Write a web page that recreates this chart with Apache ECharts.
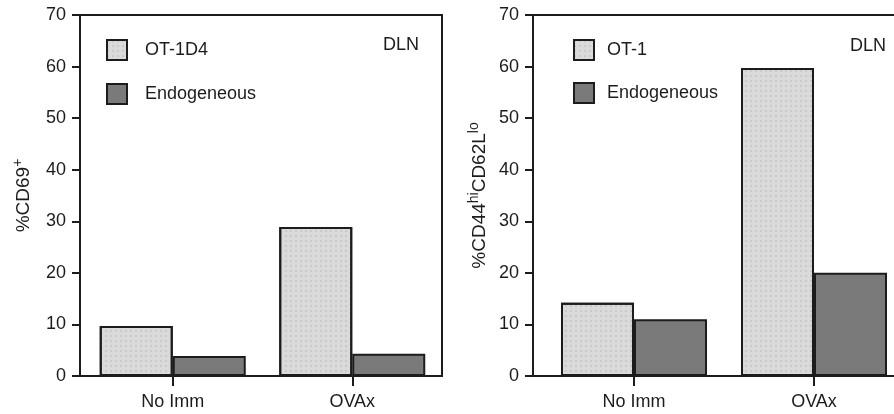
<!DOCTYPE html>
<html>
<head>
<meta charset="utf-8">
<script src="https://cdn.jsdelivr.net/npm/echarts@6/dist/echarts.min.js"></script>
<style>
html,body{margin:0;padding:0;background:#fff;overflow:hidden;}
#chart{width:912px;height:414px;}
</style>
</head>
<body>
<div id="chart"></div>
<script>
const categories = ['No Imm', 'OVAx'];
const yTicks = [0, 70, 10];
const cd69OT1D4 = [9.7, 28.9];
const cd69Endo = [3.9, 4.3];
const cd44OT1 = [14.2, 59.7];
const cd44Endo = [11.0, 20.0];

const INK = '#1c1c1c';
const LIGHT = '#dadada';
const DARK = '#7a7a7a';
const FONT = 'Liberation Sans, Arial, sans-serif';

const chart = echarts.init(document.getElementById('chart'), null, {renderer: 'canvas'});

function frameY(gridIndex, nameText, nameGap) {
  return {
    gridIndex, type: 'value', min: yTicks[0], max: yTicks[1], interval: yTicks[2],
    axisLine: {show: true, lineStyle: {color: INK, width: 2}},
    axisTick: {show: true, inside: false, length: 8, lineStyle: {color: INK, width: 2}},
    axisLabel: {color: INK, fontSize: 18, fontFamily: FONT, margin: 14},
    splitLine: {show: false},
    name: nameText, nameLocation: 'middle', nameRotate: 90, nameGap,
    nameTextStyle: {
      color: INK, fontSize: 19, fontFamily: FONT, lineHeight: 26,
      rich: {sup: {fontSize: 14, fontFamily: FONT, color: INK, verticalAlign: 'top', lineHeight: 26}}
    }
  };
}
function hiddenY(gridIndex) {
  return {gridIndex, type: 'value', min: yTicks[0], max: yTicks[1], interval: yTicks[2], show: false, splitLine: {show: false}};
}
function hiddenX(gridIndex) {
  return {gridIndex, type: 'value', min: 0, max: 1, show: false, splitLine: {show: false}};
}
function catX(gridIndex) {
  return {
    gridIndex, type: 'category', data: categories,
    axisLine: {show: true, lineStyle: {color: INK, width: 2}},
    axisTick: {show: true, alignWithLabel: true, inside: false, length: 10, lineStyle: {color: INK, width: 2}},
    axisLabel: {color: INK, fontSize: 18, fontFamily: FONT, margin: 17},
    splitLine: {show: false}
  };
}
const lightDecal = {
  symbol: 'rect', symbolSize: 1, color: 'rgba(170,170,170,0.35)',
  dashArrayX: [[2, 3]], dashArrayY: [2, 3], rotation: 0
};
function bar(name, data, color, idx, decal) {
  const itemStyle = {color, borderColor: INK, borderWidth: 2};
  if (decal) itemStyle.decal = decal;
  return {
    name, type: 'bar', data, xAxisIndex: idx, yAxisIndex: idx,
    barWidth: 73, barGap: '0%',
    itemStyle,
    emphasis: {disabled: true}
  };
}
function legend(left, top, names, gap, pad) {
  return {
    left, top, orient: 'vertical', padding: 0, itemGap: gap,
    itemWidth: 20, itemHeight: 20, icon: 'rect',
    itemStyle: {borderColor: INK, borderWidth: 2},
    textStyle: {color: INK, fontSize: 18, fontFamily: FONT, padding: [0, 0, 0, pad]},
    data: names, selectedMode: false
  };
}

chart.setOption({
  animation: false,
  backgroundColor: '#fff',
  title: [
    {text: 'DLN', left: 383, top: 36, padding: 0, textStyle: {color: INK, fontSize: 18, fontWeight: 'normal', fontFamily: FONT}},
    {text: 'DLN', left: 850, top: 37, padding: 0, textStyle: {color: INK, fontSize: 18, fontWeight: 'normal', fontFamily: FONT}}
  ],
  legend: [
    legend(106, 39, ['OT-1D4', 'Endogeneous'], 22, 13),
    legend(573, 39, ['OT-1', 'Endogeneous'], 21, 8)
  ],
  grid: [
    {left: 80, top: 15, width: 362, height: 361, show: true, borderColor: INK, borderWidth: 2, backgroundColor: 'transparent'},
    {left: 83, top: 15, width: 359, height: 361},
    {left: 533, top: 15, width: 376, height: 361, show: true, borderColor: INK, borderWidth: 2, backgroundColor: 'transparent'},
    {left: 544, top: 15, width: 360, height: 361}
  ],
  xAxis: [hiddenX(0), catX(1), hiddenX(2), catX(3)],
  yAxis: [
    frameY(0, '%CD69{sup|+}', 43),
    hiddenY(1),
    frameY(2, '%CD44{sup|hi}CD62L{sup|lo}', 40),
    hiddenY(3)
  ],
  series: [
    bar('OT-1D4', cd69OT1D4, LIGHT, 1, lightDecal),
    bar('Endogeneous', cd69Endo, DARK, 1),
    bar('OT-1', cd44OT1, LIGHT, 3, lightDecal),
    bar('Endogeneous', cd44Endo, DARK, 3)
  ]
});
</script>
</body>
</html>
